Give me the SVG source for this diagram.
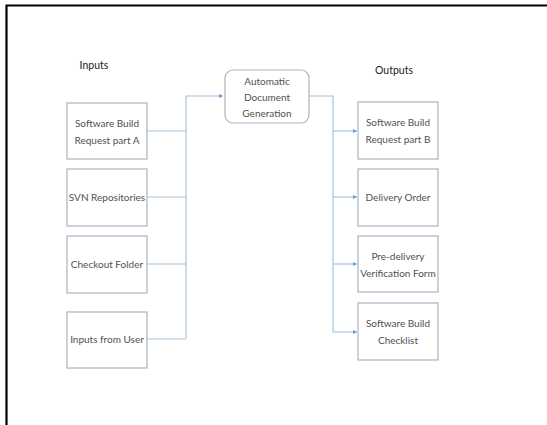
<svg xmlns="http://www.w3.org/2000/svg" width="547" height="425" viewBox="0 0 547 425">
<style>
.box{fill:#fff;stroke:#a9b4bf;stroke-width:1.2}
.t{font-family:Lato,"Liberation Sans",sans-serif;font-size:10px;fill:#505050;text-anchor:middle}
.h{font-family:Lato,"Liberation Sans",sans-serif;font-size:10.5px;fill:#222;text-anchor:middle}
.c{fill:none;stroke:#a8c3da;stroke-width:1.2}
</style>
<defs>
<marker id="ah" markerWidth="5" markerHeight="5" refX="4" refY="2.5" orient="auto" markerUnits="userSpaceOnUse">
<path d="M0,0.5 L4,2.5 L0,4.5 Z" fill="#6f9cc6"/>
</marker>
</defs>
<rect width="547" height="425" fill="#fff"/>
<path d="M6.5,425 V5.5 H547" fill="none" stroke="#000" stroke-width="2.2"/>
<text class="h" x="94" y="69">Inputs</text>
<text class="h" x="394" y="74">Outputs</text>
<g id="connectors">
<path class="c" d="M147,131 H186 M147,197 H186 M147,264 H186 M147,339 H186 M186,339 V96 H223" marker-end="url(#ah)"/>
<path class="c" d="M309,96 H333 V332"/>
<path class="c" d="M333,131 H357" marker-end="url(#ah)"/>
<path class="c" d="M333,197 H357" marker-end="url(#ah)"/>
<path class="c" d="M333,264 H357" marker-end="url(#ah)"/>
<path class="c" d="M333,332 H357" marker-end="url(#ah)"/>
</g>
<g id="auto"><rect class="box" x="225" y="70" width="84" height="53" rx="8"/>
<text class="t" x="267" y="85">Automatic</text><text class="t" x="267" y="101">Document</text><text class="t" x="267" y="117">Generation</text></g>
<g id="in1"><rect class="box" x="67" y="103" width="80" height="56"/>
<text class="t" x="107" y="127">Software Build</text><text class="t" x="107" y="144">Request part A</text></g>
<g id="in2"><rect class="box" x="67" y="169" width="80" height="57"/>
<text class="t" x="107" y="201">SVN Repositories</text></g>
<g id="in3"><rect class="box" x="67" y="236" width="80" height="57"/>
<text class="t" x="107" y="268">Checkout Folder</text></g>
<g id="in4"><rect class="box" x="67" y="312" width="80" height="56"/>
<text class="t" x="107" y="343">Inputs from User</text></g>
<g id="out1"><rect class="box" x="358" y="102" width="80" height="57"/>
<text class="t" x="398" y="126">Software Build</text><text class="t" x="398" y="143">Request part B</text></g>
<g id="out2"><rect class="box" x="358" y="169" width="80" height="57"/>
<text class="t" x="398" y="201">Delivery Order</text></g>
<g id="out3"><rect class="box" x="358" y="236" width="80" height="56"/>
<text class="t" x="398" y="260">Pre-delivery</text><text class="t" x="398" y="277">Verification Form</text></g>
<g id="out4"><rect class="box" x="358" y="303" width="80" height="57"/>
<text class="t" x="398" y="327">Software Build</text><text class="t" x="398" y="344">Checklist</text></g>
</svg>
